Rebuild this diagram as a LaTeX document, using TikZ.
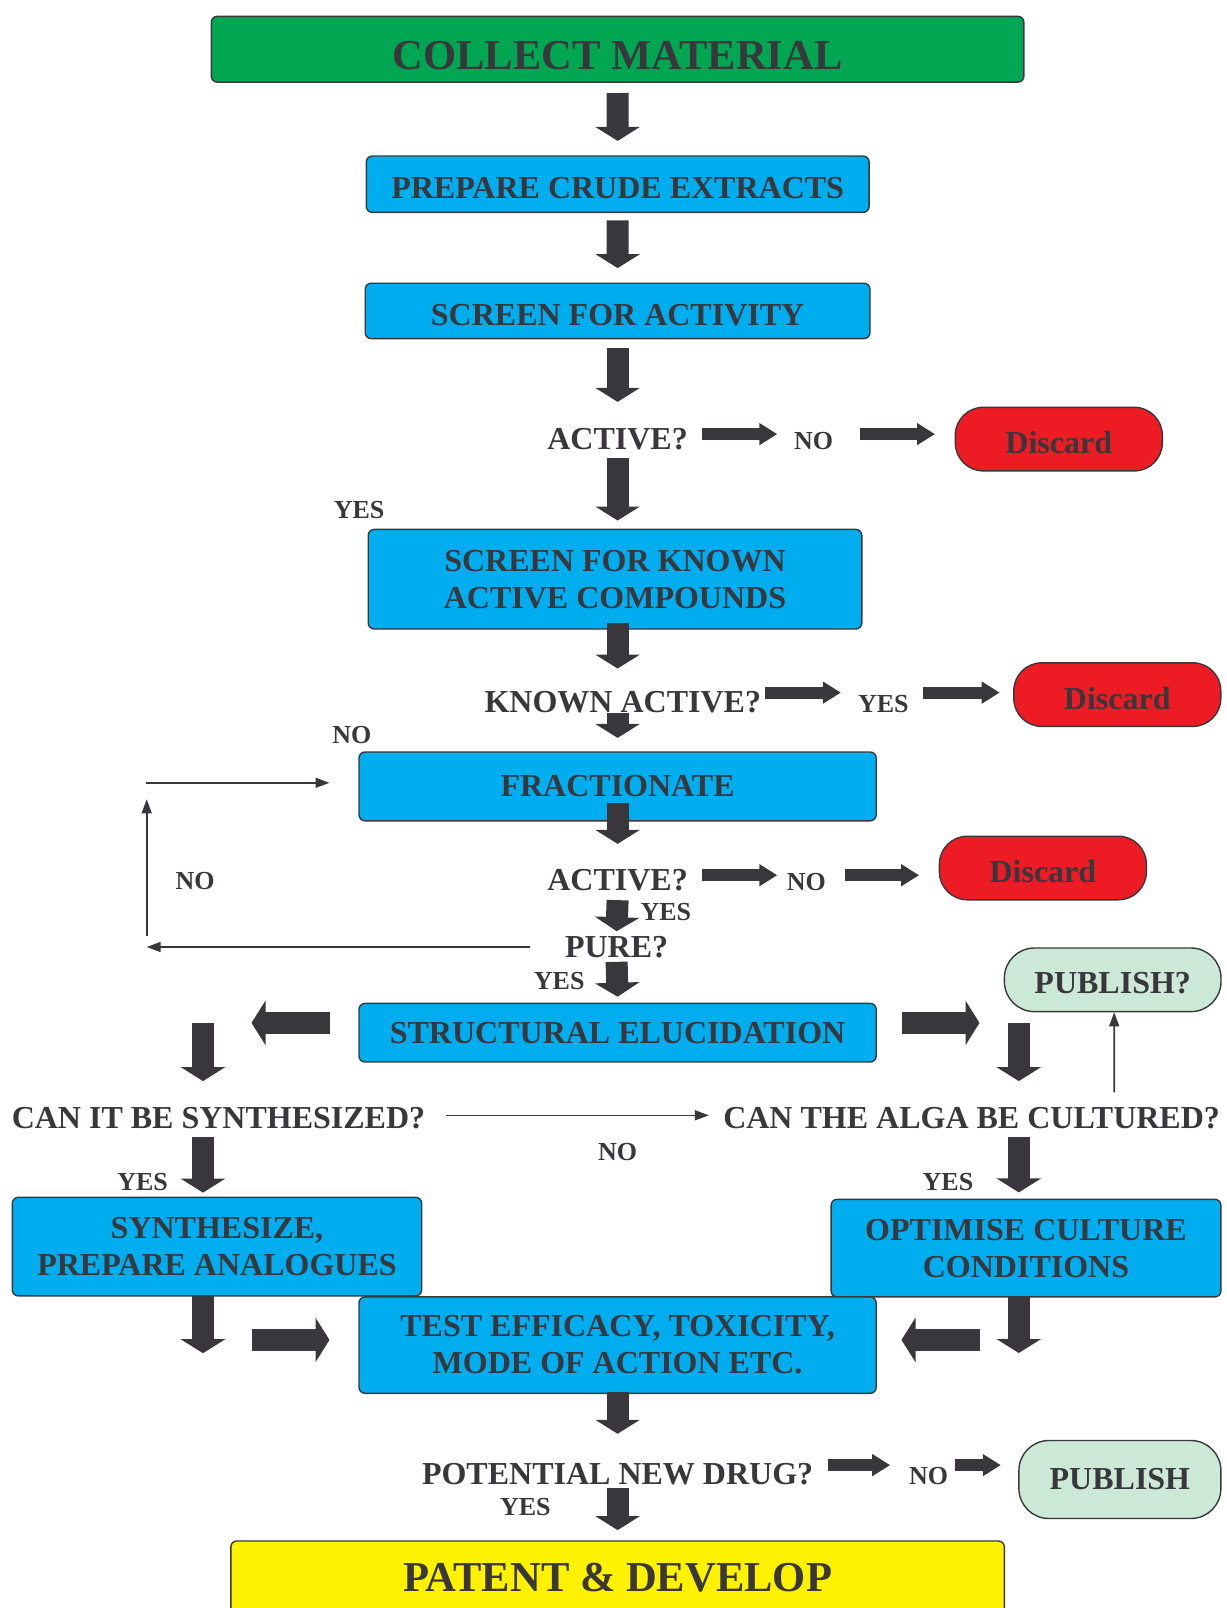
\documentclass[tikz,border=0pt]{standalone}
\usepackage{fontspec}
\setmainfont{Liberation Serif}
\usetikzlibrary{arrows.meta}
\definecolor{ink}{RGB}{57,55,60}
\definecolor{leaf}{RGB}{0,166,81}
\definecolor{sky}{RGB}{0,174,239}
\definecolor{blood}{RGB}{237,28,36}
\definecolor{mint}{RGB}{204,232,214}
\definecolor{lemon}{RGB}{255,242,0}

\begin{document}
\begin{tikzpicture}[
          x = 0.5pt, y = -0.5pt,
    box/.style = {rectangle, draw=ink, line width=0.7pt, rounded corners=3pt, fill=sky, text=ink,
                  align=center, inner sep=0pt, font=\fontsize{16}{18.5}\selectfont\bfseries},
   sunk/.style = {text height=#1, text depth=0pt},
   gbox/.style = {box, fill=leaf, font=\fontsize{21.3}{24}\selectfont\bfseries},
   ybox/.style = {box, fill=lemon, font=\fontsize{21.3}{24}\selectfont\bfseries},
   disc/.style = {box, fill=blood, rounded corners=14pt, minimum width=103.5pt, minimum height=31.8pt, sunk=14.6pt},
    pub/.style = {box, fill=mint, rounded corners=15pt},
  quest/.style = {inner sep=0pt, text=ink, font=\fontsize{16}{18.5}\selectfont\bfseries},
    lbl/.style = {inner sep=0pt, text=ink, font=\fontsize{13}{15}\selectfont\bfseries},
 barrow/.style = {draw=ink, line width=11pt, -{Triangle[width=22pt,length=7pt]}},
 sarrow/.style = {draw=ink, line width=6pt, -{Triangle[width=10.5pt,length=9pt]}},
 tarrow/.style = {draw=ink, line width=0.8pt, -{Triangle[width=5pt,length=7pt]}}
                        ]
\useasboundingbox (0,0) rectangle (1227,1608);
\clip (0,0) rectangle (1227,1608);
% boxes and questions
\node (collect) [gbox, sunk=20pt, minimum width=406.3pt, minimum height=32.9pt] at (617.6,49.2) {COLLECT MATERIAL};
\node (crude)   [box, sunk=13.8pt, minimum width=251.4pt, minimum height=28.2pt] at (617.7,184.2) {PREPARE CRUDE EXTRACTS};
\node (screen)  [box, sunk=14.2pt, minimum width=252.4pt, minimum height=27.7pt] at (617.6,310.9) {SCREEN FOR ACTIVITY};
\node (active)  [quest] at (617.6,439.1) {ACTIVE?};
\node (noA)     [lbl] at (813.6,441.2) {NO};
\node (discA)   [disc] at (1058.8,439.1) {Discard};
\node (yesA)    [lbl] at (359.1,509.9) {YES};
\node (known)   [box, minimum width=246.8pt, minimum height=49.8pt] at (615,579.2) {SCREEN FOR KNOWN\\ACTIVE COMPOUNDS};
\node (knownq)  [quest] at (622.8,701.8) {KNOWN ACTIVE?};
\node (yesK)    [lbl] at (883.4,703.8) {YES};
\node (discK)   [disc] at (1117.3,694.6) {Discard};
\node (noK)     [lbl] at (351.9,734.6) {NO};
\node (fract)   [box, minimum width=258.6pt, minimum height=34.4pt] at (617.6,786.4) {FRACTIONATE};
\node (active2) [quest] at (617.6,880.3) {ACTIVE?};
\node (noF)     [lbl] at (806.4,882.4) {NO};
\node (discF)   [disc] at (1042.9,868) {Discard};
\node (yesF)    [lbl] at (665.9,912.1) {YES};
\node (pure)    [quest] at (616.6,947) {PURE?};
\node (yesP)    [lbl] at (559.2,980.9) {YES};
\node (noP)     [lbl] at (195,881.3) {NO};
\node (pubq)    [pub, sunk=13.8pt, minimum width=108.3pt, minimum height=31.8pt] at (1112.7,979.8) {PUBLISH?};
\node (struct)  [box, minimum width=258.6pt, minimum height=29.3pt] at (617.6,1032.7) {STRUCTURAL ELUCIDATION};
\node (synq)    [quest] at (218.5,1118.3) {CAN IT BE SYNTHESIZED?};
\node (noS)     [lbl] at (617.6,1152.2) {NO};
\node (algaq)   [quest] at (971.6,1118.3) {CAN THE ALGA BE CULTURED?};
\node (yesS)    [lbl] at (142.6,1181.9) {YES};
\node (yesC)    [lbl] at (948,1181.9) {YES};
\node (synth)   [box, minimum width=204.7pt, minimum height=49.3pt] at (217,1246.6) {SYNTHESIZE,\\PREPARE ANALOGUES};
\node (optim)   [box, minimum width=194.9pt, minimum height=48.8pt] at (1026,1248.1) {OPTIMISE CULTURE\\CONDITIONS};
\node (test)    [box, minimum width=258.6pt, minimum height=48.2pt] at (617.6,1345.1) {TEST EFFICACY, TOXICITY,\\MODE OF ACTION ETC.};
\node (potq)    [quest] at (617.6,1474.4) {POTENTIAL NEW DRUG?};
\node (noD)     [lbl] at (928.5,1476.4) {NO};
\node (pub)     [pub, minimum width=101pt, minimum height=39pt] at (1119.9,1479.5) {PUBLISH};
\node (yesD)    [lbl] at (525.3,1507.2) {YES};
\node (patent)  [ybox, minimum width=386.8pt, minimum height=37pt] at (617.6,1578) {PATENT \& DEVELOP};
% main column
\draw[barrow] ([yshift=-5.1pt]collect.south) -- ([yshift=7.2pt]crude.north);
\draw[barrow] ([yshift=-3.6pt]crude.south) -- ([yshift=7.2pt]screen.north);
\draw[barrow] ([yshift=-4.1pt]screen.south) -- ([yshift=13pt]active.north);
\draw[sarrow] ([xshift=7pt,yshift=2.5pt]active.east |- discA) -- ([xshift=-8.2pt,yshift=2.5pt]noA.west |- discA);
\draw[sarrow] ([xshift=13.4pt,yshift=2.5pt]noA.east |- discA) -- ([xshift=-9.8pt,yshift=2.5pt]discA.west);
\draw[barrow] ([yshift=-3.9pt]active.south) -- ([yshift=4.1pt]known.north -| fract);
\draw[barrow] ([yshift=3.5pt]known.south -| fract) -- ([yshift=11pt]knownq.north -| fract);
\draw[sarrow] ([xshift=1.7pt,yshift=1pt]knownq.east |- discK) -- ([xshift=-8.4pt,yshift=1pt]yesK.west |- discK);
\draw[sarrow] ([xshift=6.9pt,yshift=1pt]yesK.east |- discK) -- ([xshift=-6.7pt,yshift=1pt]discK.west);
\draw[barrow] (knownq.south -| fract) -- ([yshift=6.7pt]fract.north);
\draw[barrow] ([yshift=9.3pt]fract.south) -- ([yshift=12.6pt]active2.north);
\draw[sarrow] ([xshift=7pt,yshift=-3.6pt]active2.east |- discF) -- ([xshift=-4.6pt,yshift=-3.6pt]noF.west |- discF);
\draw[sarrow] ([xshift=9.3pt,yshift=-3.6pt]noF.east |- discF) -- ([xshift=-9.8pt,yshift=-3.6pt]discF.west);
\draw[barrow] ([yshift=-4.3pt]active2.south) -- ([yshift=2.3pt]pure.north);
\draw[barrow] ([yshift=-1.8pt]pure.south) -- ([yshift=3pt]struct.north);
% back to fractionate
\coordinate (loopA) at (146.7,935.7);
\coordinate (loopB) at (146.7,799.3);
\coordinate (loopC) at (145.7,782.8);
\draw[tarrow] ([xshift=-17.3pt]pure.west) -- (pure.west -| loopA);
\draw[tarrow] (loopA) -- (loopB);
\draw[tarrow] (loopC) -- ([xshift=-14.4pt]fract.west |- loopC);
% two branches
\draw[barrow] ([xshift=-14.4pt,yshift=4.9pt]struct.west) -- ([xshift=-53.4pt,yshift=4.9pt]struct.west);
\draw[barrow] ([xshift=12.3pt,yshift=4.9pt]struct.east) -- ([xshift=51.3pt,yshift=4.9pt]struct.east);
\draw[barrow] ([xshift=-7pt,yshift=41.8pt]synq.north -| synth) -- ([xshift=-7pt,yshift=13pt]synq.north -| synth);
\draw[barrow] ([xshift=-3.6pt,yshift=41.8pt]algaq.north -| optim) -- ([xshift=-3.6pt,yshift=13pt]algaq.north -| optim);
\draw[tarrow] ([xshift=10pt,yshift=1.5pt]synq.east) -- ([xshift=-7pt,yshift=1.5pt]algaq.west);
\draw[tarrow] ([xshift=71.3pt,yshift=7.4pt]algaq.north) -- ([xshift=0.75pt]pubq.south);
\draw[barrow] ([xshift=-7pt,yshift=-3.9pt]synq.south -| synth) -- ([xshift=-7pt,yshift=2pt]synth.north);
\draw[barrow] ([xshift=-3.6pt,yshift=-3.9pt]algaq.south -| optim) -- ([xshift=-3.6pt,yshift=3.1pt]optim.north);
\draw[barrow] ([xshift=-7pt,yshift=0.5pt]synth.south) -- ([xshift=-7pt,yshift=-28.3pt]synth.south);
\draw[barrow] ([xshift=-3.6pt,yshift=1pt]optim.south) -- ([xshift=-3.6pt,yshift=-27.7pt]optim.south);
\draw[barrow] ([xshift=-53.4pt,yshift=2.6pt]test.west) -- ([xshift=-14.4pt,yshift=2.6pt]test.west);
\draw[barrow] ([xshift=51.3pt,yshift=2.6pt]test.east) -- ([xshift=12.3pt,yshift=2.6pt]test.east);
% last decision
\draw[barrow] ([yshift=1pt]test.south) -- ([yshift=14.7pt]potq.north);
\draw[sarrow] ([xshift=7.4pt,yshift=7.2pt]potq.east |- pub) -- ([xshift=-9.2pt,yshift=7.2pt]noD.west |- pub);
\draw[sarrow] ([xshift=3.1pt,yshift=7.2pt]noD.east |- pub) -- ([xshift=-8.7pt,yshift=7.2pt]pub.west);
\draw[barrow] ([yshift=-1.3pt]potq.south) -- ([yshift=5.1pt]patent.north);
\end{tikzpicture}
\end{document}
